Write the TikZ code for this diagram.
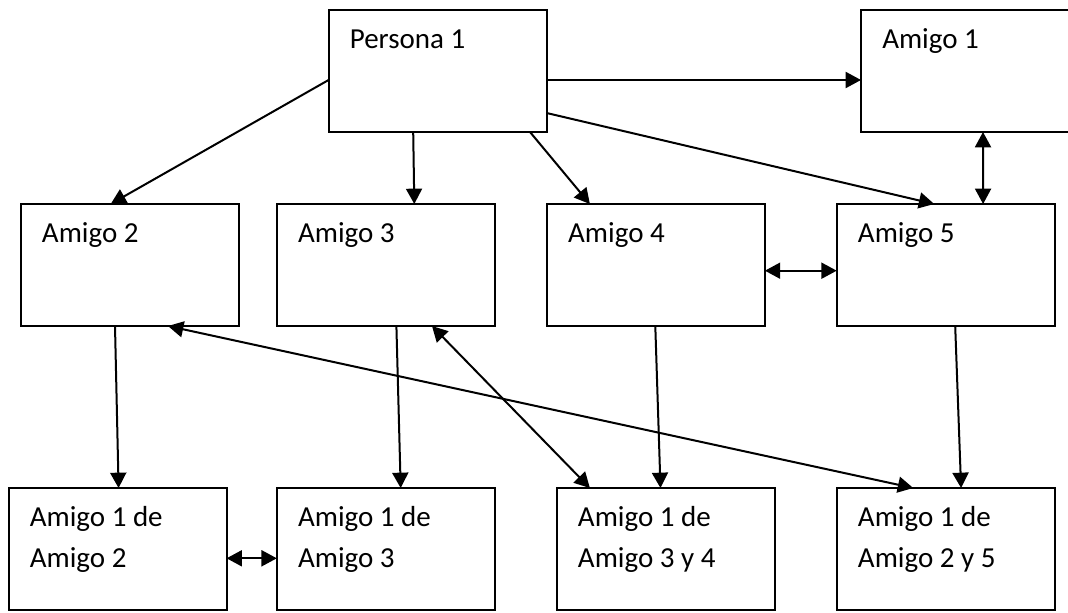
\documentclass[tikz,border=0pt]{standalone}
\usepackage{fontspec}
\setmainfont{Carlito}
\usetikzlibrary{arrows.meta}
\begin{document}
\begin{tikzpicture}[x=0.75pt,y=-0.75pt,
  box/.style={draw, line width=1.5pt, minimum width=163.5pt, minimum height=91.5pt,
              inner sep=0pt, outer sep=0pt, anchor=north west},
  txt/.style={font=\fontsize{21.75pt}{30.75pt}\selectfont, inner sep=0pt, anchor=base west},
  arr/.style={line width=1.5pt, -{Triangle[length=11.5pt,width=12pt]}},
  darr/.style={line width=1.5pt, {Triangle[length=11.5pt,width=12pt]}-{Triangle[length=11.5pt,width=12pt]}}]
\clip (0,0) rectangle (1068,613);
\fill[white] (0,0) rectangle (1068,613);
% boxes
\node[box] (p1) at (328.6,10) {};
\node[box] (a1) at (861,10) {};
\node[box] (a2) at (20.7,204) {};
\node[box] (a3) at (276.8,204) {};
\node[box] (a4) at (546.9,204) {};
\node[box] (a5) at (836.7,204) {};
\node[box] (b1) at (8.6,488) {};
\node[box] (b2) at (276.8,488) {};
\node[box] (b3) at (556.7,488) {};
\node[box] (b4) at (836.7,488) {};
% texts
\node[txt] (tp1) at ([shift={(21,39)}]p1.north west) {Persona 1};
\node[txt] (ta1) at ([shift={(21,39)}]a1.north west) {Amigo 1};
\node[txt] (ta2) at ([shift={(21,39)}]a2.north west) {Amigo 2};
\node[txt] (ta3) at ([shift={(21,39)}]a3.north west) {Amigo 3};
\node[txt] (ta4) at ([shift={(21,39)}]a4.north west) {Amigo 4};
\node[txt] (ta5) at ([shift={(21,39)}]a5.north west) {Amigo 5};
\node[txt] (tb1) at ([shift={(21,38.7)}]b1.north west) {\parbox[t]{150pt}{Amigo 1 de\\Amigo 2}};
\node[txt] (tb2) at ([shift={(21,38.7)}]b2.north west) {\parbox[t]{150pt}{Amigo 1 de\\Amigo 3}};
\node[txt] (tb3) at ([shift={(21,38.7)}]b3.north west) {\parbox[t]{150pt}{Amigo 1 de\\Amigo 3 y 4}};
\node[txt] (tb4) at ([shift={(21,38.7)}]b4.north west) {\parbox[t]{150pt}{Amigo 1 de\\Amigo 2 y 5}};
% connectors
\draw[arr] ([shift={(0,70)}]p1.north west) -- ([shift={(90,0)}]a2.north west);
\draw[arr] ([shift={(84.6,0)}]p1.south west) -- ([shift={(137.5,0)}]a3.north west);
\draw[arr] ([shift={(201.4,0)}]p1.south west) -- ([shift={(43,0)}]a4.north west);
\draw[arr] ([shift={(0,70)}]p1.north east) -- ([shift={(0,70)}]a1.north west);
\draw[arr] ([shift={(0,103)}]p1.north east) -- ([shift={(97.5,0)}]a5.north west);
\draw[darr] ([shift={(122,0)}]a1.south west) -- ([shift={(146.4,0)}]a5.north west);
\draw[darr] ([shift={(0,66.7)}]a4.north east) -- ([shift={(0,66.7)}]a5.north west);
\draw[arr] ([shift={(94.3,0)}]a2.south west) -- ([shift={(110,0)}]b1.north west);
\draw[arr] ([shift={(119.6,0)}]a3.south west) -- ([shift={(123.9,0)}]b2.north west);
\draw[arr] ([shift={(108.4,0)}]a4.south west) -- ([shift={(103.8,0)}]b3.north west);
\draw[arr] ([shift={(118.5,0)}]a5.south west) -- ([shift={(124.4,0)}]b4.north west);
\draw[darr] ([shift={(0,70.3)}]b1.north east) -- ([shift={(0,70.3)}]b2.north west);
\draw[darr] ([shift={(155.2,0)}]a3.south west) -- ([shift={(33.2,0)}]b3.north west);
\draw[darr] ([shift={(147.3,0)}]a2.south west) -- ([shift={(76.5,0)}]b4.north west);
\end{tikzpicture}
\end{document}
